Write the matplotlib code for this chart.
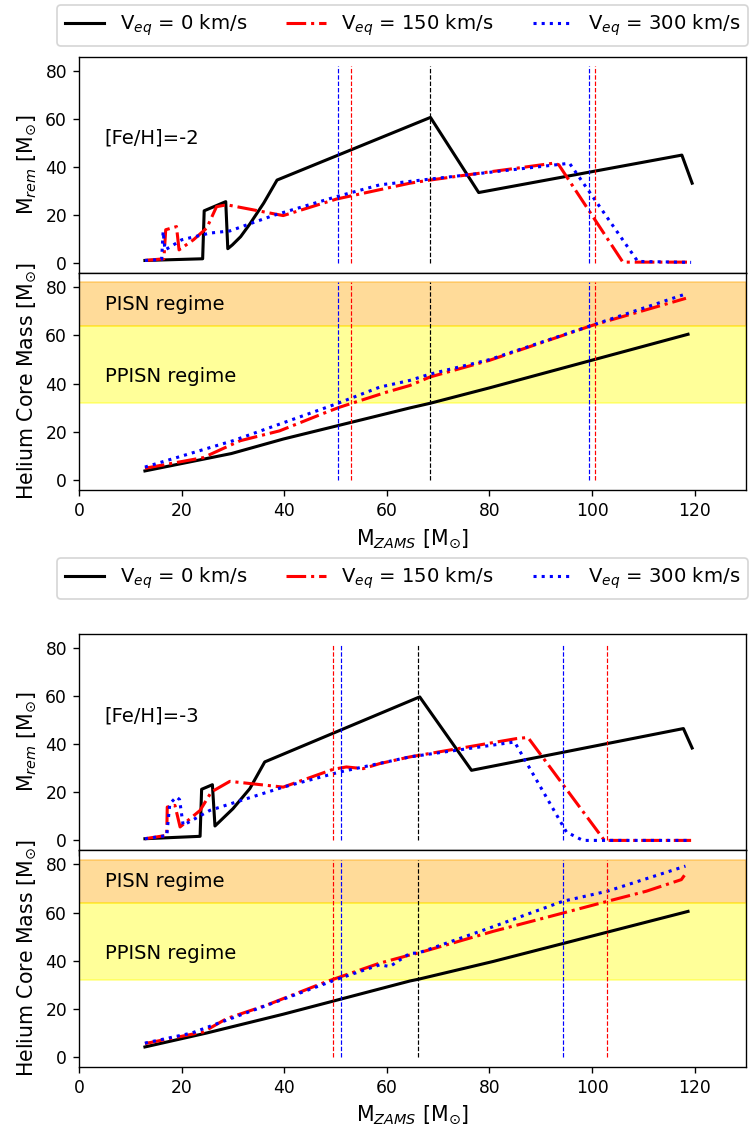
import numpy as np
import matplotlib
matplotlib.use("Agg")
import matplotlib.pyplot as plt

# [Fe/H] = -2 : remnant mass
rem2_x0 = [12.85, 24.1, 24.4, 28.6, 29.0, 29.9, 31.5, 33.3, 36.0, 38.6, 68.5, 77.9, 117.5, 119.5]
rem2_y0 = [1.1, 1.8, 21.8, 25.6, 6.0, 7.6, 11.0, 16.3, 25.0, 34.6, 60.7, 29.4, 45.0, 33.3]
rem2_x150 = [12.85, 16.55, 16.9, 19.0, 19.5, 22.3, 24.9, 26.8, 28.8, 39.8, 50.2, 64.5, 68.4, 75.5, 92.4, 93.5, 99.5, 106.0, 119.3]
rem2_y150 = [1.1, 1.8, 13.9, 15.2, 5.5, 9.7, 14.6, 23.5, 24.3, 19.8, 26.7, 33.3, 34.6, 36.7, 41.6, 41.0, 21.5, 0.4, 0.4]
rem2_x300 = [12.85, 16.1, 16.4, 16.75, 17.6, 20.0, 25.5, 29.4, 37.8, 50.2, 58.6, 68.4, 95.6, 108.9, 119.3]
rem2_y300 = [1.1, 1.5, 13.2, 5.5, 6.5, 9.7, 12.5, 13.4, 19.8, 27.7, 32.6, 35.0, 41.6, 0.7, 0.3]

# [Fe/H] = -2 : helium core mass
he2_x0 = [12.85, 29.7, 39.8, 64.5, 68.4, 80.0, 118.7]
he2_y0 = [3.9, 11.1, 17.1, 30.0, 31.9, 38.3, 60.5]
he2_x150 = [12.85, 24.2, 31.4, 39.1, 48.2, 50.8, 59.9, 64.5, 68.4, 80.0, 100.2, 118.3]
he2_y150 = [5.0, 9.4, 16.4, 20.5, 28.2, 30.3, 36.5, 39.3, 42.8, 49.7, 64.3, 75.4]
he2_x300 = [12.85, 30.0, 50.2, 58.6, 64.5, 68.4, 80.0, 99.4, 117.7]
he2_y300 = [5.5, 16.4, 31.7, 38.6, 41.4, 44.0, 50.0, 63.8, 76.8]

# [Fe/H] = -3 : remnant mass
rem3_x0 = [12.85, 23.6, 23.9, 26.0, 26.5, 30.0, 33.3, 36.2, 66.4, 76.5, 117.8, 119.5]
rem3_y0 = [0.7, 1.7, 21.3, 23.2, 6.0, 13.2, 21.6, 32.7, 59.8, 29.2, 46.6, 38.5]
rem3_x150 = [12.85, 17.1, 17.2, 18.7, 19.7, 23.6, 25.8, 29.4, 39.8, 49.5, 52.1, 55.4, 58.6, 64.5, 85.2, 87.5, 102.4, 119.3]
rem3_y150 = [0.7, 2.1, 13.9, 14.6, 5.6, 12.5, 20.2, 24.6, 22.2, 29.6, 30.6, 29.9, 32.0, 34.8, 42.4, 42.9, 0.0, 0.0]
rem3_x300 = [12.85, 17.1, 17.7, 19.0, 19.6, 20.3, 25.5, 32.7, 39.8, 50.8, 64.5, 84.9, 95.0, 98.2, 119.3]
rem3_y300 = [0.7, 2.0, 15.3, 18.1, 17.0, 6.3, 12.5, 17.4, 22.2, 28.5, 34.8, 41.0, 3.5, 0.0, 0.0]

# [Fe/H] = -3 : helium core mass
he3_x0 = [12.85, 24.9, 39.8, 64.5, 66.1, 80.7, 118.7]
he3_y0 = [4.2, 10.0, 17.8, 31.6, 32.3, 39.7, 60.5]
he3_x150 = [12.85, 24.2, 28.8, 36.6, 48.2, 58.6, 64.5, 66.1, 80.7, 94.3, 103.0, 110.6, 117.4, 118.0]
he3_y150 = [5.6, 10.4, 16.0, 21.6, 31.3, 39.0, 42.4, 43.2, 52.2, 59.8, 64.7, 68.9, 73.7, 75.5]
he3_x300 = [12.85, 22.0, 50.8, 58.6, 60.6, 64.5, 66.1, 80.0, 94.3, 103.0, 118.2]
he3_y300 = [5.8, 10.0, 32.7, 38.3, 37.6, 43.1, 43.2, 53.6, 64.7, 68.9, 79.3]

# limits of the pair-instability regimes (helium core mass)
ppisn_band = (32, 64)
pisn_band = (64, 82)

# vertical markers (where the helium core enters each regime)
vl2 = {"k": [68.5], "r": [53.0, 100.5], "b": [50.5, 99.4]}
vl3 = {"k": [66.0], "r": [49.5, 103.0], "b": [51.0, 94.4]}

labels = [r"V$_{eq}$ = 0 km/s", r"V$_{eq}$ = 150 km/s", r"V$_{eq}$ = 300 km/s"]
styles = [("k", "-"), ("r", "-."), ("b", ":")]

DPI = 123
W, H = 749, 1134
fig = plt.figure(figsize=(W / DPI, H / DPI), dpi=DPI)


def frac(top, bottom):
    return [79 / W, 1 - bottom / H, 667 / W, (bottom - top) / H]


def draw_group(ax_r, ax_h, rem, he, vl, feh, leg_top):
    for (c, ls), (x, y), lab in zip(styles, rem, labels):
        ax_r.plot(x, y, color=c, ls=ls, lw=1.8, label=lab)
    for (c, ls), (x, y) in zip(styles, he):
        ax_h.plot(x, y, color=c, ls=ls, lw=1.8)
    ax_h.axhspan(*pisn_band, color="orange", alpha=0.4)
    ax_h.axhspan(*ppisn_band, color="yellow", alpha=0.4)
    for ax in (ax_r, ax_h):
        for c, xs in vl.items():
            ax.vlines(xs, 0, 82, colors=c, linestyles="dashed", lw=0.7)
        ax.set_xlim(0, 130)
        ax.set_ylim(-4, 86)
        ax.set_yticks([0, 20, 40, 60, 80])
        ax.tick_params(labelsize=10)
    ax_r.tick_params(labelbottom=False)
    ax_r.text(5, 52, feh, va="center", fontsize=11.5)
    ax_h.text(5, 73, "PISN regime", va="center", fontsize=11.5)
    ax_h.text(5, 43, "PPISN regime", va="center", fontsize=11.5)
    ax_r.set_ylabel(r"M$_{rem}$ [M$_{\odot}$]", fontsize=12)
    ax_h.set_ylabel(r"Helium Core Mass [M$_{\odot}$]", fontsize=12)
    ax_h.set_xlabel(r"M$_{ZAMS}$ [M$_{\odot}$]", fontsize=12)
    h, l = ax_r.get_legend_handles_labels()
    fig.legend(h, l, ncol=3, loc="upper left", borderaxespad=0, fontsize=11.5,
               bbox_to_anchor=(57 / W, 1 - leg_top / H))


a1 = fig.add_axes(frac(56.7, 272.7))
b1 = fig.add_axes(frac(272.7, 490))
a2 = fig.add_axes(frac(634, 850))
b2 = fig.add_axes(frac(850, 1066.7))

draw_group(a1, b1,
           [(rem2_x0, rem2_y0), (rem2_x150, rem2_y150), (rem2_x300, rem2_y300)],
           [(he2_x0, he2_y0), (he2_x150, he2_y150), (he2_x300, he2_y300)],
           vl2, "[Fe/H]=-2", 5)
draw_group(a2, b2,
           [(rem3_x0, rem3_y0), (rem3_x150, rem3_y150), (rem3_x300, rem3_y300)],
           [(he3_x0, he3_y0), (he3_x150, he3_y150), (he3_x300, he3_y300)],
           vl3, "[Fe/H]=-3", 558)

fig.savefig("out.png", dpi=DPI)
